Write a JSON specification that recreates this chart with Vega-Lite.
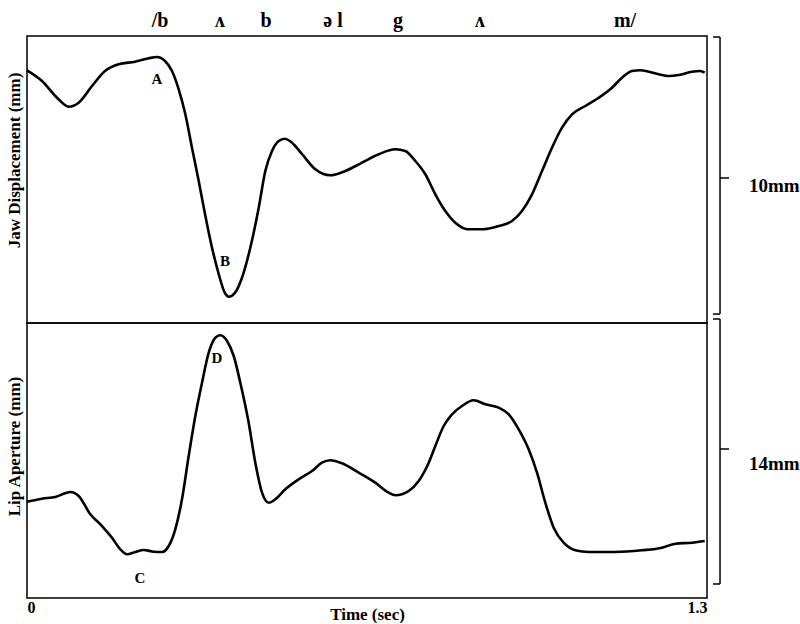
{
  "$schema": "https://vega.github.io/schema/vega-lite/v6.json",
  "background": "white",
  "padding": {"left": 4, "top": 10, "right": 0, "bottom": 0},
  "bounds": "flush",
  "spacing": 0,
  "datasets": {
    "jaw": [
      {"t":0,"v":9.025},{"t":0.0287,"v":8.643},{"t":0.0574,"v":8.046},{"t":0.0797,"v":7.725},{"t":0.0988,"v":7.868},{"t":0.1243,"v":8.464},{"t":0.1491,"v":9.0},{"t":0.1753,"v":9.239},{"t":0.2065,"v":9.332},{"t":0.2327,"v":9.454},{"t":0.2485,"v":9.5},{"t":0.2638,"v":9.357},{"t":0.2772,"v":9.0},{"t":0.29,"v":8.346},{"t":0.3026,"v":7.464},{"t":0.3154,"v":6.261},{"t":0.3283,"v":5.071},{"t":0.3403,"v":3.893},{"t":0.3537,"v":2.689},{"t":0.3665,"v":1.75},{"t":0.378,"v":1.082},{"t":0.3856,"v":0.939},{"t":0.3977,"v":1.082},{"t":0.411,"v":1.618},{"t":0.4269,"v":2.689},{"t":0.443,"v":4.118},{"t":0.4556,"v":5.429},{"t":0.4684,"v":6.143},{"t":0.4812,"v":6.5},{"t":0.4927,"v":6.582},{"t":0.5066,"v":6.439},{"t":0.5257,"v":6.036},{"t":0.5512,"v":5.489},{"t":0.5798,"v":5.275},{"t":0.6085,"v":5.429},{"t":0.6405,"v":5.725},{"t":0.6724,"v":6.025},{"t":0.7041,"v":6.204},{"t":0.7232,"v":6.143},{"t":0.7424,"v":5.786},{"t":0.7615,"v":5.311},{"t":0.7806,"v":4.596},{"t":0.7997,"v":4.0},{"t":0.8188,"v":3.582},{"t":0.8444,"v":3.346},{"t":0.8699,"v":3.346},{"t":0.9018,"v":3.464},{"t":0.9272,"v":3.643},{"t":0.9463,"v":4.0},{"t":0.9655,"v":4.596},{"t":0.9846,"v":5.429},{"t":1.0037,"v":6.261},{"t":1.0228,"v":6.975},{"t":1.0419,"v":7.454},{"t":1.0673,"v":7.75},{"t":1.093,"v":8.046},{"t":1.1184,"v":8.404},{"t":1.1375,"v":8.761},{"t":1.1566,"v":9.0},{"t":1.1725,"v":9.025},{"t":1.1886,"v":8.975},{"t":1.2077,"v":8.882},{"t":1.2268,"v":8.821},{"t":1.2459,"v":8.857},{"t":1.2713,"v":8.975},{"t":1.2872,"v":9.0},{"t":1.2956,"v":8.939}
    ],
    "lip": [
      {"t":0,"v":5.087},{"t":0.0287,"v":5.246},{"t":0.0541,"v":5.335},{"t":0.0828,"v":5.6},{"t":0.0988,"v":5.388},{"t":0.121,"v":4.422},{"t":0.1434,"v":3.803},{"t":0.1625,"v":3.185},{"t":0.1784,"v":2.573},{"t":0.1912,"v":2.308},{"t":0.207,"v":2.43},{"t":0.2231,"v":2.536},{"t":0.2422,"v":2.446},{"t":0.2581,"v":2.43},{"t":0.2709,"v":2.747},{"t":0.2835,"v":3.629},{"t":0.2963,"v":5.214},{"t":0.3091,"v":7.501},{"t":0.3218,"v":9.614},{"t":0.3346,"v":11.373},{"t":0.3474,"v":12.958},{"t":0.36,"v":13.751},{"t":0.3695,"v":13.877},{"t":0.3824,"v":13.576},{"t":0.3952,"v":12.784},{"t":0.4078,"v":11.373},{"t":0.4238,"v":9.26},{"t":0.4365,"v":7.147},{"t":0.4493,"v":5.563},{"t":0.4621,"v":5.034},{"t":0.4747,"v":5.214},{"t":0.4938,"v":5.742},{"t":0.5194,"v":6.27},{"t":0.5449,"v":6.709},{"t":0.564,"v":7.147},{"t":0.5798,"v":7.274},{"t":0.6022,"v":7.116},{"t":0.6341,"v":6.619},{"t":0.6659,"v":6.091},{"t":0.6915,"v":5.563},{"t":0.7041,"v":5.425},{"t":0.7297,"v":5.652},{"t":0.7488,"v":6.181},{"t":0.768,"v":7.147},{"t":0.7806,"v":8.03},{"t":0.7966,"v":9.086},{"t":0.8125,"v":9.704},{"t":0.8316,"v":10.143},{"t":0.854,"v":10.444},{"t":0.8762,"v":10.232},{"t":0.9018,"v":10.053},{"t":0.9209,"v":9.704},{"t":0.94,"v":8.912},{"t":0.9591,"v":7.855},{"t":0.975,"v":6.619},{"t":0.9909,"v":5.034},{"t":1.0069,"v":3.714},{"t":1.026,"v":2.921},{"t":1.0482,"v":2.52},{"t":1.0738,"v":2.43},{"t":1.1247,"v":2.43},{"t":1.1757,"v":2.52},{"t":1.214,"v":2.657},{"t":1.2394,"v":2.868},{"t":1.2713,"v":2.921},{"t":1.2956,"v":3.011}
    ]
  },
  "vconcat": [
    {
      "width": 680,
      "height": 287,
      "encoding": {
        "x": {"field": "t", "type": "quantitative", "scale": {"domain": [0, 1.3], "nice": false, "zero": false}, "axis": null},
        "y": {"field": "v", "type": "quantitative", "scale": {"domain": [0, 10.25], "nice": false, "zero": false},
              "axis": {"title": "Jaw Displacement (mm)", "labels": false, "ticks": false, "domain": false, "grid": false, "titleFontSize": 17, "titlePadding": 4, "titleY": 124}}
      },
      "layer": [
        {"data": {"name": "jaw"}, "mark": {"type": "line", "color": "black", "strokeWidth": 2.6, "interpolate": "monotone"}},
        {"data": {"values": [{"t": 0.2485, "v": 8.714, "label": "A"}, {"t": 0.3785, "v": 2.214, "label": "B"}]},
         "mark": {"type": "text", "fontSize": 15, "baseline": "middle"}, "encoding": {"text": {"field": "label"}}},
        {"data": {"values": [
            {"t": 0.2543, "v": 10.571, "label": "/b"},
            {"t": 0.369, "v": 10.571, "label": "ʌ"},
            {"t": 0.4569, "v": 10.571, "label": "b"},
            {"t": 0.585, "v": 10.571, "label": "ə l"},
            {"t": 0.7093, "v": 10.571, "label": "g"},
            {"t": 0.866, "v": 10.571, "label": "ʌ"},
            {"t": 1.1433, "v": 10.571, "label": "m/"}]},
         "mark": {"type": "text", "fontSize": 20, "baseline": "alphabetic"}, "encoding": {"text": {"field": "label"}}},
        {"data": {"values": [
            {"t": 1.3249, "t2": 1.3249, "v": 10.214, "v2": 0.32},
            {"t": 1.3115, "t2": 1.3249, "v": 10.214, "v2": 10.214},
            {"t": 1.3115, "t2": 1.3249, "v": 0.32, "v2": 0.32},
            {"t": 1.3249, "t2": 1.3421, "v": 5.179, "v2": 5.179}]},
         "mark": {"type": "rule", "color": "black", "strokeWidth": 1.5},
         "encoding": {"x2": {"field": "t2"}, "y2": {"field": "v2"}}},
        {"data": {"values": [{"t": 1.3803, "v": 4.893, "label": "10mm"}]},
         "mark": {"type": "text", "fontSize": 19, "align": "left", "baseline": "middle"}, "encoding": {"text": {"field": "label"}}}
      ]
    },
    {
      "width": 680,
      "height": 275,
      "encoding": {
        "x": {"field": "t", "type": "quantitative", "scale": {"domain": [0, 1.3], "nice": false, "zero": false},
              "axis": {"values": [0, 1.3], "format": ".1~f", "labelFlush": true, "ticks": false, "domain": false, "grid": false, "labelFontSize": 16, "labelPadding": 1, "title": "Time (sec)", "titleFontSize": 17, "titlePadding": -9}},
        "y": {"field": "v", "type": "quantitative", "scale": {"domain": [0, 14.527], "nice": false, "zero": false},
              "axis": {"title": "Lip Aperture (mm)", "labels": false, "ticks": false, "domain": false, "grid": false, "titleFontSize": 17, "titlePadding": 4, "titleY": 123}}
      },
      "layer": [
        {"data": {"name": "lip"}, "mark": {"type": "line", "color": "black", "strokeWidth": 2.6, "interpolate": "monotone"}},
        {"data": {"values": [{"t": 0.216, "v": 1.057, "label": "C"}, {"t": 0.3632, "v": 12.68, "label": "D"}]},
         "mark": {"type": "text", "fontSize": 15, "baseline": "middle"}, "encoding": {"text": {"field": "label"}}},
        {"data": {"values": [
            {"t": 1.3249, "t2": 1.3249, "v": 14.739, "v2": 0.74},
            {"t": 1.3115, "t2": 1.3249, "v": 14.739, "v2": 14.739},
            {"t": 1.3115, "t2": 1.3249, "v": 0.74, "v2": 0.74},
            {"t": 1.3249, "t2": 1.3421, "v": 7.871, "v2": 7.871}]},
         "mark": {"type": "rule", "color": "black", "strokeWidth": 1.5},
         "encoding": {"x2": {"field": "t2"}, "y2": {"field": "v2"}}},
        {"data": {"values": [{"t": 1.3803, "v": 7.079, "label": "14mm"}]},
         "mark": {"type": "text", "fontSize": 19, "align": "left", "baseline": "middle"}, "encoding": {"text": {"field": "label"}}}
      ]
    }
  ],
  "config": {
    "font": "Liberation Serif",
    "view": {"stroke": "black", "strokeWidth": 1.5},
    "axis": {"titleFont": "Liberation Serif", "titleFontWeight": "bold", "titleColor": "black", "labelFont": "Liberation Serif", "labelFontWeight": "bold", "labelColor": "black"},
    "text": {"font": "Liberation Serif", "fontWeight": "bold", "color": "black"}
  }
}
